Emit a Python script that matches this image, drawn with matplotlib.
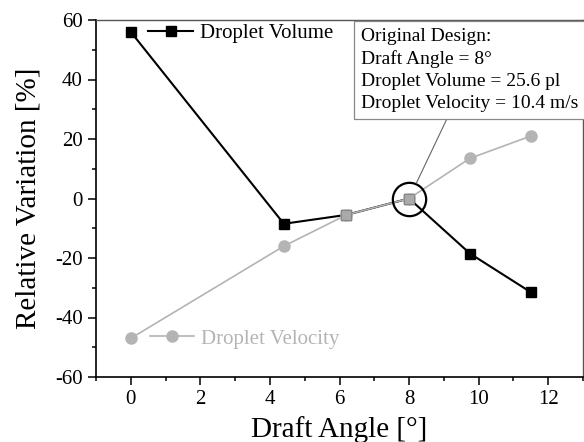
import numpy as np
import matplotlib
matplotlib.use('Agg')
import matplotlib.pyplot as plt
from matplotlib.lines import Line2D
from matplotlib.ticker import MultipleLocator

# data
draft_angle = [0.0, 4.4, 6.2, 8.0, 9.75, 11.5]
volume_var = [56.0, -8.5, -5.5, 0.0, -18.5, -31.5]
velocity_var = [-47.0, -16.0, -5.5, 0.0, 13.5, 21.0]
design_angle = 8.0
design_text = ['Original Design:', 'Draft Angle = 8\u00b0',
               'Droplet Volume = 25.6 pl', 'Droplet Velocity = 10.4 m/s']

plt.rcParams['font.family'] = ['Liberation Serif', 'DejaVu Serif']
black = '#000000'
grey = '#b4b4b4'

fig = plt.figure(figsize=(5.84, 4.42), dpi=100)
ax = fig.add_axes([96 / 584, 65 / 442, 487 / 584, 357 / 442])

ax.plot(draft_angle, volume_var, color=black, lw=1.5, marker='s', ms=7.5,
        mfc=black, mec=black, zorder=3)
ax.plot(draft_angle, velocity_var, color=grey, lw=1.2, marker='o', ms=8,
        mfc=grey, mec=grey, zorder=4)

# points where both series coincide are drawn as grey squares
x = np.array(draft_angle)
v = np.array(volume_var)
w = np.array(velocity_var)
shared = np.isclose(v, w)
ax.plot(x[shared], v[shared], ls='none', marker='s', ms=7.5, mfc='#aaaaaa',
        mec='#888888', mew=0.8, zorder=5)

# highlight original design
d = np.isclose(x, design_angle)
ax.plot(x[d], v[d], ls='none', marker='o', ms=24, mfc='none', mec=black,
        mew=1.6, zorder=6)

ax.annotate('\n'.join(design_text), xy=(x[d][0], v[d][0]),
            xycoords='data', xytext=(0.544, 0.977), textcoords='axes fraction',
            ha='left', va='top', fontsize=14, linespacing=1.38,
            bbox=dict(boxstyle='square,pad=0.35', fc='white', ec='#888888', lw=0.9),
            arrowprops=dict(arrowstyle='-', color='#666666', lw=0.8,
                            relpos=(0.41, 0.0), shrinkA=0, shrinkB=12),
            zorder=7)

h_vol = Line2D([], [], color=black, lw=1.5, marker='s', ms=7.5)
h_vel = Line2D([], [], color=grey, lw=1.2, marker='o', ms=8)
leg1 = ax.legend([h_vol], ['Droplet Volume'], loc='upper left',
                 bbox_to_anchor=(0.107, 0.99), frameon=False, fontsize=15,
                 handlelength=2.15, handletextpad=0.33, borderpad=0,
                 borderaxespad=0)
ax.add_artist(leg1)
leg2 = ax.legend([h_vel], ['Droplet Velocity'], loc='center left',
                 bbox_to_anchor=(0.11, 0.107), frameon=False, fontsize=15,
                 handlelength=2.15, handletextpad=0.33, borderpad=0,
                 borderaxespad=0)
for t in leg2.get_texts():
    t.set_color(grey)

ax.set_xlim(-1, 13)
ax.set_ylim(-60, 60)
ax.xaxis.set_major_locator(MultipleLocator(2))
ax.xaxis.set_minor_locator(MultipleLocator(1))
ax.yaxis.set_major_locator(MultipleLocator(20))
ax.yaxis.set_minor_locator(MultipleLocator(10))
ax.tick_params(which='both', direction='out', top=False, right=False,
               labelsize=15, width=1.1, pad=4)
ax.tick_params(which='major', length=5.5)
ax.tick_params(which='minor', length=3)
ax.set_yticklabels([f'{int(t)}' for t in ax.get_yticks()])

for s in ['left', 'bottom']:
    ax.spines[s].set_linewidth(1.2)
for s in ['top', 'right']:
    ax.spines[s].set_linewidth(1.0)
    ax.spines[s].set_color('#555555')

ax.set_xlabel('Draft Angle [\u00b0]', fontsize=21, labelpad=5)
ax.set_ylabel('Relative Variation [%]', fontsize=21, labelpad=10)

fig.savefig('out.png', dpi=100)
